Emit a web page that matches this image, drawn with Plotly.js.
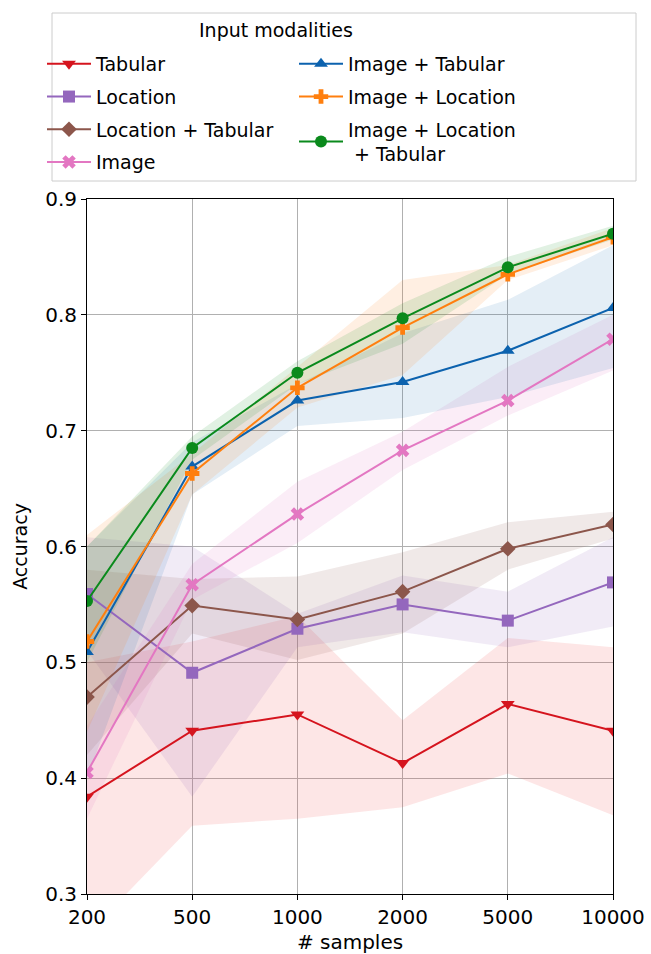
<!DOCTYPE html>
<html><head><meta charset="utf-8">
<script src="https://cdn.plot.ly/plotly-3.0.1.min.js"></script>
<style>html,body{margin:0;padding:0;background:#fff}</style>
</head><body><div id="chart" style="width:651px;height:954px"></div>
<script>
// ---- data ----
const samples = ['200', '500', '1000', '2000', '5000', '10000'];
const seriesNames = ['Tabular', 'Location', 'Location + Tabular', 'Image', 'Image + Tabular', 'Image + Location', 'Image + Location<br> + Tabular'];

const tabularMean = [0.384, 0.441, 0.455, 0.413, 0.464, 0.441];
const tabularLow  = [0.265, 0.359, 0.365, 0.375, 0.404, 0.368];
const tabularHigh = [0.500, 0.518, 0.540, 0.450, 0.521, 0.513];

const locationMean = [0.559, 0.491, 0.529, 0.550, 0.536, 0.569];
const locationLow  = [0.510, 0.384, 0.513, 0.526, 0.513, 0.531];
const locationHigh = [0.608, 0.600, 0.542, 0.575, 0.561, 0.608];

const locTabMean = [0.470, 0.549, 0.537, 0.561, 0.598, 0.619];
const locTabLow  = [0.420, 0.525, 0.502, 0.525, 0.580, 0.607];
const locTabHigh = [0.580, 0.572, 0.574, 0.595, 0.621, 0.630];

const imageMean = [0.405, 0.567, 0.628, 0.683, 0.726, 0.779];
const imageLow  = [0.365, 0.554, 0.603, 0.666, 0.713, 0.752];
const imageHigh = [0.445, 0.585, 0.656, 0.699, 0.755, 0.800];

const imgTabMean = [0.509, 0.669, 0.726, 0.742, 0.769, 0.806];
const imgTabLow  = [0.400, 0.645, 0.704, 0.711, 0.729, 0.754];
const imgTabHigh = [0.600, 0.690, 0.740, 0.784, 0.813, 0.860];

const imgLocMean = [0.518, 0.663, 0.737, 0.789, 0.835, 0.867];
const imgLocLow  = [0.440, 0.645, 0.720, 0.748, 0.830, 0.860];
const imgLocHigh = [0.610, 0.680, 0.755, 0.830, 0.843, 0.875];

const allMean = [0.553, 0.685, 0.750, 0.797, 0.841, 0.870];
const allLow  = [0.500, 0.675, 0.740, 0.775, 0.835, 0.865];
const allHigh = [0.600, 0.695, 0.760, 0.810, 0.850, 0.877];

const yTicks = [0.3, 0.4, 0.5, 0.6, 0.7, 0.8, 0.9];

// ---- styles ----
const series = [
  {mean: tabularMean, lo: tabularLow, hi: tabularHigh, color: '#d5141e', fill: 'rgba(240,60,60,0.13)', symbol: 'triangle-down', legend: 'legend', rank: 1},
  {mean: locationMean, lo: locationLow, hi: locationHigh, color: '#9467bd', fill: 'rgba(148,103,189,0.13)', symbol: 'square', legend: 'legend', rank: 2},
  {mean: locTabMean, lo: locTabLow, hi: locTabHigh, color: '#8c564b', fill: 'rgba(140,86,75,0.13)', symbol: 'diamond', legend: 'legend', rank: 3},
  {mean: imageMean, lo: imageLow, hi: imageHigh, color: '#e377c2', fill: 'rgba(227,119,194,0.13)', symbol: 'x', legend: 'legend', rank: 4},
  {mean: imgTabMean, lo: imgTabLow, hi: imgTabHigh, color: '#0c62ae', fill: 'rgba(12,98,174,0.11)', symbol: 'triangle-up', legend: 'legend2', rank: 5},
  {mean: imgLocMean, lo: imgLocLow, hi: imgLocHigh, color: '#ff7f0e', fill: 'rgba(255,127,14,0.12)', symbol: 'cross', legend: 'legend2', rank: 6},
  {mean: allMean, lo: allLow, hi: allHigh, color: '#0a8a1c', fill: 'rgba(10,138,28,0.12)', symbol: 'circle', legend: 'legend2', rank: 7}
];

const traces = [];
series.forEach((s, i) => {
  traces.push({x: samples, y: s.lo, type: 'scatter', mode: 'lines', line: {width: 0, color: s.fill}, showlegend: false, hoverinfo: 'skip'});
  traces.push({x: samples, y: s.hi, type: 'scatter', mode: 'lines', line: {width: 0, color: s.fill}, fill: 'tonexty', fillcolor: s.fill, showlegend: false, hoverinfo: 'skip'});
});
series.forEach((s, i) => {
  traces.push({
    x: samples, y: s.mean, type: 'scatter', mode: 'lines+markers', name: seriesNames[i],
    line: {color: s.color, width: 2},
    marker: {color: s.color, symbol: s.symbol, size: 12, line: {width: 0}},
    legend: s.legend, legendgroup: 'g' + i, legendrank: s.rank
  });
});

const font = 'DejaVu Sans, sans-serif';
const L = 87, R = 613, T = 199, B = 894;
const px2x = p => (p - L) / (R - L);
const px2y = p => (B - p) / (B - T);

const legendCommon = {
  font: {family: font, size: 19, color: '#000'},
  bgcolor: 'rgba(0,0,0,0)', borderwidth: 0,
  xanchor: 'left', yanchor: 'top', orientation: 'v',
  traceorder: 'grouped', tracegroupgap: 5, itemwidth: 44
};

const layout = {
  width: 651, height: 954,
  margin: {l: L, r: 651 - R, t: T, b: 954 - B},
  paper_bgcolor: '#fff', plot_bgcolor: '#fff',
  font: {family: font, size: 19, color: '#000'},
  xaxis: {
    type: 'category', range: [0, samples.length - 1],
    showgrid: true, gridcolor: '#b0b0b0', gridwidth: 1,
    showline: true, linecolor: '#000', linewidth: 1, mirror: true,
    ticks: 'outside', ticklen: 5, tickcolor: '#000',
    tickfont: {family: font, size: 20},
    title: {text: '# samples', font: {family: font, size: 20}, standoff: 6},
    zeroline: false
  },
  yaxis: {
    range: [0.3, 0.9], tickvals: yTicks, ticktext: yTicks.map(v => v.toFixed(1)),
    showgrid: true, gridcolor: '#b0b0b0', gridwidth: 1,
    showline: true, linecolor: '#000', linewidth: 1, mirror: true,
    ticks: 'outside', ticklen: 5, tickcolor: '#000',
    tickfont: {family: font, size: 20},
    title: {text: 'Accuracy', font: {family: font, size: 19}, standoff: 12},
    zeroline: false
  },
  legend: Object.assign({}, legendCommon, {x: px2x(42), y: px2y(45)}),
  legend2: Object.assign({}, legendCommon, {x: px2x(294), y: px2y(45)}),
  shapes: [{
    type: 'rect', xref: 'paper', yref: 'paper',
    x0: px2x(52), x1: px2x(636), y0: px2y(181), y1: px2y(13),
    line: {color: '#cccccc', width: 1}, fillcolor: 'rgba(255,255,255,0.8)', layer: 'below'
  }],
  annotations: [{
    text: 'Input modalities', xref: 'paper', yref: 'paper',
    x: px2x(276), y: px2y(30), xanchor: 'center', yanchor: 'middle',
    showarrow: false, font: {family: font, size: 19, color: '#000'}
  }],
  showlegend: true
};

Plotly.newPlot('chart', traces, layout, {displayModeBar: false, staticPlot: true});
</script>
</body></html>
